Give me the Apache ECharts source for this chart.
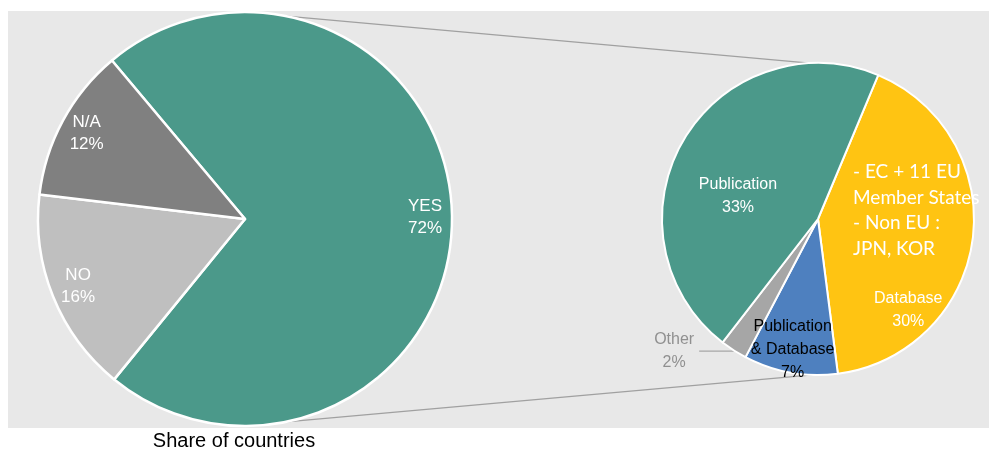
<!DOCTYPE html>
<html>
<head>
<meta charset="utf-8">
<script src="https://cdn.jsdelivr.net/npm/echarts@6/dist/echarts.min.js"></script>
<style>
html,body{margin:0;padding:0;background:#fff;}
#chart{width:989px;height:452px;}
</style>
</head>
<body>
<div id="chart"></div>
<script>
// ---- data ----
const leftCategories = ['YES', 'NO', 'N/A'];
const leftValues = [72, 16, 12];
const rightCategories = ['Database', 'Publication\n& Database', 'Other', 'Publication'];
const rightValues = [30, 7, 2, 33];
const annotationLines = ['- EC + 11 EU', 'Member States', '- Non EU :', 'JPN, KOR'];
const axisTitle = 'Share of countries';

// ---- styles / layout ----
const LBL = "'Liberation Sans', Arial, sans-serif";
const REG = "'Liberation Sans', Arial, sans-serif";
const leftColors = ['#4B998A', '#BFBFBF', '#808080'];
const rightColors = ['#FFC412', '#4E80BF', '#A6A6A6', '#4B998A'];
const rightLabelColors = ['#ffffff', '#000000', '#909090', '#ffffff'];
const L = {cx: 245, cy: 219, r: 207, start: 130};
const R = {cx: 818, cy: 219, r: 156, start: 67.3};
// label nudges (dx, dy) for right pie inside labels
const rightNudge = [[10, 80], [-11, 51], [0, 0], [-10, 18]];

const chart = echarts.init(document.getElementById('chart'), null, {renderer: 'canvas'});

function pt(c, r, degFromTop) {
  const a = degFromTop * Math.PI / 180;
  return [c.cx + r * Math.sin(a), c.cy - r * Math.cos(a)];
}
const lt = pt(L, L.r, 11.5), lb = pt(L, L.r, 168.5);
const rt = pt(R, R.r, -3), rb = pt(R, R.r, 182);

const leftData = leftCategories.map((n, i) => ({name: n, value: leftValues[i], itemStyle: {color: leftColors[i]}}));
const rightData = rightCategories.map((n, i) => {
  const d = {name: n, value: rightValues[i], itemStyle: {color: rightColors[i]},
    label: {color: rightLabelColors[i]}};
  if (n === 'Other') {
    d.label = {position: 'outside', color: '#909090',
      formatter: p => '{a|' + p.name + '}\n{a|' + p.value + '%}',
      rich: {a: {width: 40, align: 'center', fontFamily: LBL, fontSize: 16, lineHeight: 23, color: '#909090'}}};
    d.labelLine = {show: true, length: 1, length2: 34, lineStyle: {color: '#A6A6A6', width: 1.2}};
  }
  return d;
});

const option = {
  animation: false,
  backgroundColor: '#ffffff',
  graphic: [
    {type: 'rect', z: -10, shape: {x: 8, y: 11, width: 981, height: 417}, style: {fill: '#E8E8E8'}},
    {type: 'line', z: -5, shape: {x1: lt[0], y1: lt[1], x2: rt[0], y2: rt[1]}, style: {stroke: '#A0A0A0', lineWidth: 1.2}},
    {type: 'line', z: -5, shape: {x1: lb[0], y1: lb[1], x2: rb[0], y2: rb[1]}, style: {stroke: '#A0A0A0', lineWidth: 1.2}},
    {type: 'text', z: 100, x: 853, y: 159, style: {text: annotationLines.join('\n'), fill: '#ffffff',
      font: "19px Lato, 'Open Sans', sans-serif", lineHeight: 25.7, textAlign: 'left', textVerticalAlign: 'top'}},
    {type: 'text', z: 100, x: 234, y: 441, style: {text: axisTitle, fill: '#000000',
      font: '20px ' + REG, textAlign: 'center', textVerticalAlign: 'middle'}}
  ],
  series: [
    {
      type: 'pie', center: [L.cx, L.cy], radius: L.r, startAngle: L.start, clockwise: true,
      avoidLabelOverlap: false, silent: true, z: 2,
      itemStyle: {borderColor: '#ffffff', borderWidth: 2.5},
      label: {show: false}, labelLine: {show: false},
      data: leftData
    },
    {
      // transparent ring only to place the left labels near the rim
      type: 'pie', center: [L.cx, L.cy], radius: [147, L.r], startAngle: L.start, clockwise: true,
      avoidLabelOverlap: false, silent: true, z: 3,
      itemStyle: {color: 'rgba(0,0,0,0)', borderWidth: 0},
      label: {show: true, position: 'inside', color: '#ffffff', fontFamily: LBL, fontSize: 17, lineHeight: 22,
        formatter: p => p.name + '\n' + p.value + '%'},
      labelLine: {show: false},
      data: leftCategories.map((n, i) => ({name: n, value: leftValues[i]}))
    },
    {
      type: 'pie', center: [R.cx, R.cy], radius: R.r, startAngle: R.start, clockwise: true,
      avoidLabelOverlap: false, silent: true, z: 2,
      itemStyle: {borderColor: '#ffffff', borderWidth: 2},
      label: {show: true, position: 'inside', fontFamily: LBL, fontSize: 16, lineHeight: 23,
        formatter: p => p.name + '\n' + p.value + '%'},
      labelLine: {show: false},
      labelLayout: p => {
        const n = rightNudge[p.dataIndex];
        return {dx: n[0], dy: n[1]};
      },
      data: rightData
    }
  ]
};
chart.setOption(option);
</script>
</body>
</html>
